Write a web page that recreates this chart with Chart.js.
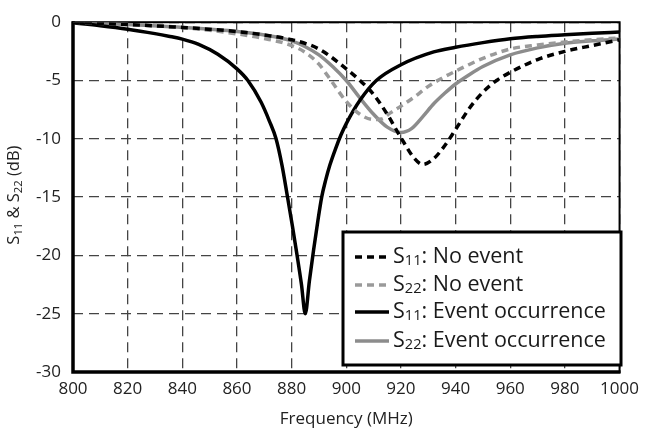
<!DOCTYPE html>
<html>
<head>
<meta charset="utf-8">
<title>S11 &amp; S22</title>
<script src="https://cdn.jsdelivr.net/npm/chart.js@4.4.1/dist/chart.umd.min.js"></script>
<style>
    html, body { margin: 0; padding: 0; background: #fff; }
    #wrap { width: 646px; height: 430px; }
</style>
</head>
<body>
<div id="wrap"><canvas id="chart" width="646" height="430"></canvas></div>
<script>
(function () {
    'use strict';

    // values (MHz / dB)
    var freqS11NoEvent = [800, 820, 840, 860, 870, 880, 890, 900, 905, 910, 915, 920, 925, 928, 932, 936, 940, 945, 950, 955, 960, 970, 980, 990, 1000];
    var s11NoEvent = [0, -0.2, -0.45, -0.8, -1.1, -1.5, -2.3, -4.0, -5.0, -6.2, -7.9, -9.9, -11.7, -12.2, -11.7, -10.6, -9.2, -7.4, -6.0, -5.0, -4.3, -3.2, -2.5, -2.0, -1.5];

    var freqS22NoEvent = [800, 820, 840, 860, 870, 880, 885, 890, 895, 900, 905, 910, 913, 916, 920, 925, 930, 935, 940, 950, 960, 970, 980, 990, 1000];
    var s22NoEvent = [0, -0.2, -0.45, -1.0, -1.4, -2.0, -2.6, -3.6, -5.2, -6.8, -7.9, -8.35, -8.3, -7.8, -7.2, -6.4, -5.5, -4.8, -4.2, -3.1, -2.3, -1.95, -1.7, -1.5, -1.35];

    var freqS11Event = [800, 810, 820, 830, 835, 840, 846, 853, 860, 864, 868.8, 871.9, 874.3, 876.5, 878.5, 880.3, 882, 883.6, 885, 886.5, 888, 889.5, 891, 892.5, 894, 896, 898, 900, 905, 911, 920, 932, 940, 950, 960, 970, 980, 990, 1000];
    var s11Event = [-0.05, -0.3, -0.6, -0.98, -1.2, -1.45, -1.9, -2.75, -4.0, -5.0, -6.85, -8.5, -10, -12.3, -15, -17.5, -20, -22.5, -25, -22.2, -19.6, -17.2, -15, -13.5, -12.25, -10.9, -9.7, -8.7, -6.7, -5.0, -3.65, -2.55, -2.15, -1.75, -1.42, -1.22, -1.08, -0.95, -0.85];

    var freqS22Event = [800, 820, 840, 860, 870, 880, 885, 890, 895, 900, 905, 910, 915, 920, 924, 928, 932, 936, 940, 945, 950, 960, 970, 980, 990, 1000];
    var s22Event = [0, -0.2, -0.45, -0.8, -1.1, -1.6, -2.1, -2.8, -3.8, -5.0, -6.5, -7.9, -9.0, -9.45, -9.1, -8.1, -7.0, -6.1, -5.3, -4.5, -3.8, -2.8, -2.2, -1.8, -1.6, -1.45];

    var seriesNames = ["S11: No event", "S22: No event", "S11: Event occurrence", "S22: Event occurrence"];
    var xTicks = { min: 800, max: 1000, step: 20 };
    var yTicks = { min: -30, max: 0, step: 5 };

    var FONT = "'Open Sans', 'Noto Sans', sans-serif";

    function points (xs, ys) {
        return xs.map(function (x, i) {
            return { x: x, y: ys[i] };
        });
    }

    function line (label, xs, ys, color, width, dash) {
        return {
            label: label,
            data: points(xs, ys),
            borderColor: color,
            backgroundColor: color,
            borderWidth: width,
            borderDash: dash,
            borderCapStyle: "butt",
            pointRadius: 0,
            fill: false,
            cubicInterpolationMode: "monotone"
        };
    }

    function splitSub (text) {
        var m = /^S(\d+)(.*)$/.exec(text);
        return m ? [["S", false], [m[1], true], [m[2], false]] : [[text, false]];
    }

    // draws "S11: ..." with the digits as a subscript
    function drawRich (ctx, text, x, y, size) {
        splitSub(text).forEach(function (p) {
            var sub = p[1];
            ctx.font = (sub ? size * 0.68 : size) + "px " + FONT;
            ctx.fillText(p[0], x, y + (sub ? size * 0.2 : 0));
            x += ctx.measureText(p[0]).width;
        });
        return x;
    }

    function richWidth (ctx, text, size) {
        var w = 0;
        splitSub(text).forEach(function (p) {
            ctx.font = (p[1] ? size * 0.68 : size) + "px " + FONT;
            w += ctx.measureText(p[0]).width;
        });
        return w;
    }

    var framePlugin = {
        id: "frame",
        beforeDatasetsDraw: function (chart) {
            var ctx = chart.ctx,
                a = chart.chartArea;
            ctx.save();
            ctx.strokeStyle = "#000";
            ctx.lineWidth = 2;
            ctx.strokeRect(a.left, a.top, a.right - a.left, a.bottom - a.top);
            ctx.lineWidth = 3.5;
            ctx.beginPath();
            ctx.moveTo(a.left, a.top - 1);
            ctx.lineTo(a.left, a.bottom);
            ctx.lineTo(a.right + 1, a.bottom);
            ctx.stroke();
            ctx.restore();
        }
    };

    var yTitlePlugin = {
        id: "yTitle",
        afterDraw: function (chart) {
            var ctx = chart.ctx,
                a = chart.chartArea,
                text = ["S11 & ", "S22 (dB)"],
                size = 16.5,
                w = richWidth(ctx, text[0], size) + richWidth(ctx, text[1], size),
                x;
            ctx.save();
            ctx.translate(19, (a.top + a.bottom) / 2 - 2);
            ctx.rotate(-Math.PI / 2);
            ctx.fillStyle = "#222";
            ctx.textBaseline = "alphabetic";
            x = drawRich(ctx, text[0], -w / 2, 0, size);
            drawRich(ctx, text[1], x, 0, size);
            ctx.restore();
        }
    };

    var legendPlugin = {
        id: "boxLegend",
        afterDatasetsDraw: function (chart) {
            var ctx = chart.ctx,
                box = { left: 343, top: 232, right: 621, bottom: 365 },
                rowY = [257, 285, 312, 341],
                size = 21.5;

            ctx.save();
            ctx.fillStyle = "#fff";
            ctx.fillRect(box.left, box.top, box.right - box.left, box.bottom - box.top);
            ctx.strokeStyle = "#000";
            ctx.lineWidth = 3;
            ctx.strokeRect(box.left, box.top, box.right - box.left, box.bottom - box.top);

            chart.data.datasets.forEach(function (ds, i) {
                var y = rowY[i];
                ctx.strokeStyle = ds.borderColor;
                ctx.lineWidth = ds.borderWidth;
                ctx.setLineDash(ds.borderDash || []);
                ctx.beginPath();
                ctx.moveTo(355, y);
                ctx.lineTo(389, y);
                ctx.stroke();
                ctx.setLineDash([]);

                ctx.fillStyle = "#1a1a1a";
                ctx.textBaseline = "middle";
                drawRich(ctx, ds.label, 393, y, size);
            });
            ctx.restore();
        }
    };

    var ctx = document.getElementById("chart").getContext("2d");

    new Chart(ctx, {
        type: "line",
        data: {
            datasets: [
                line(seriesNames[0], freqS11NoEvent, s11NoEvent, "#000000", 3.5, [7, 5]),
                line(seriesNames[1], freqS22NoEvent, s22NoEvent, "#9a9a9a", 3.5, [7, 5]),
                line(seriesNames[2], freqS11Event, s11Event, "#000000", 3.5, []),
                line(seriesNames[3], freqS22Event, s22Event, "#8c8c8c", 3.5, [])
            ]
        },
        options: {
            responsive: false,
            animation: false,
            layout: { padding: { top: 13, right: 20, left: 0, bottom: 0 } },
            plugins: {
                legend: { display: false },
                tooltip: { enabled: false }
            },
            scales: {
                x: {
                    type: "linear",
                    min: xTicks.min,
                    max: xTicks.max,
                    afterFit: function (scale) {
                        scale.height = 58;
                    },
                    ticks: {
                        stepSize: xTicks.step,
                        padding: 7,
                        color: "#222",
                        font: { family: FONT, size: 17 },
                        callback: function (v) {
                            return String(v);
                        }
                    },
                    grid: { color: "#444", lineWidth: 1.3, drawTicks: false },
                    border: { display: false, dash: [10, 6] },
                    title: {
                        display: true,
                        text: "Frequency (MHz)",
                        color: "#222",
                        font: { family: FONT, size: 17 },
                        padding: { top: 0, bottom: 1 }
                    }
                },
                y: {
                    type: "linear",
                    min: yTicks.min,
                    max: yTicks.max,
                    afterFit: function (scale) {
                        scale.width = 73;
                    },
                    ticks: {
                        stepSize: yTicks.step,
                        padding: 12,
                        color: "#222",
                        font: { family: FONT, size: 17 }
                    },
                    grid: { color: "#444", lineWidth: 1.3, drawTicks: false },
                    border: { display: false, dash: [10, 6] }
                }
            }
        },
        plugins: [framePlugin, yTitlePlugin, legendPlugin]
    });
}());
</script>
</body>
</html>
